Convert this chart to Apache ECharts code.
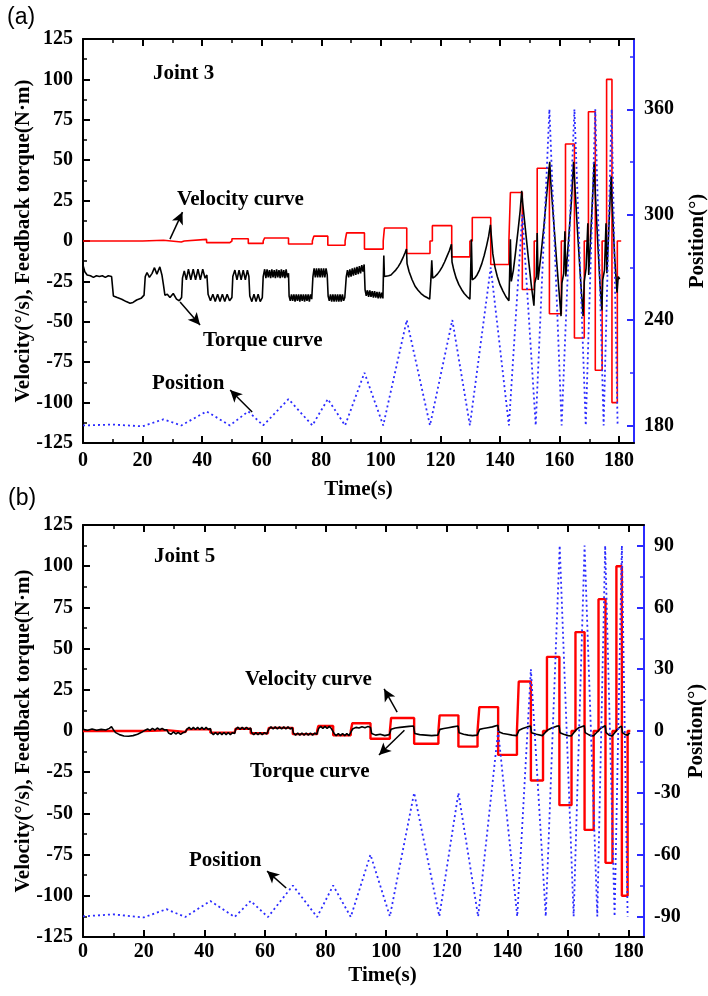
<!DOCTYPE html>
<html><head><meta charset="utf-8">
<script src="https://cdn.jsdelivr.net/npm/echarts@6/dist/echarts.min.js"></script>
<style>html,body{margin:0;padding:0;background:#fff;}#c{width:708px;height:996px;}</style>
</head><body><div id="c"></div>
<script>
// ---------- DATA ----------
const xMajor = [0,20,40,60,80,100,120,140,160,180];
const xMinor = [10,30,50,70,90,110,130,150,170];
const posA_major = [180,240,300,360];
const posA_minor = [210,270,330,390];
const posB_major = [-90,-60,-30,0,30,60,90];
const posB_minor = [-75,-45,-15,15,45,75];

// Panel (a) Joint 3 : velocity step segments (start time, value)
const velA_t = [0,20,27,33,34,41.5,49.3,50,55.5,60.5,61,69,77,77.5,82.2,88,88.5,94.5,100.8,101.2,108.7,116.5,117.3,123.8,129.9,130.7,136.9,143,143.5,147.5,151.5,152.5,156.6,160.6,162,165,168.3,169.7,172,174.3,175.8,177.6,179.4,180.7];
const velA_v = [0,0.5,-0.6,0,1,-1,0,1.4,-1.5,0,1.9,-1.9,0,3,-2.6,0,5,-5,0,8,-7.7,0,9.5,-9.8,0,14.5,-14.5,0,30,-30,0,45,-45,0,60,-60,0,80,-80,0,100,-100,0,0];

// Panel (a) position vertices [t, deg]
const posA = [[0,180],[10,180.5],[20,179.5],[27,183.5],[33,180],[41.5,188],[49.3,180],[55.5,188],[60.5,180],[69,195],[77,180],[82.2,195],[88,180],[94.5,210],[100.8,180],[108.7,240],[116.5,180],[124,240],[129.9,180],[136.9,270],[143,180],[147.5,300],[152,180],[156.6,360],[160.7,180],[165,360],[168.8,180],[172,360],[174.8,180],[177.5,360],[179.5,180]];

// Panel (a) feedback torque [t, N·m]
const torqueA = [
[0,-15],[0.6,-19],[1.4,-21],[2.5,-21.5],[3.5,-22.5],[4.5,-21.5],[5.5,-22],[6.5,-21.5],[7.5,-22.5],[8.5,-21.5],[9.6,-22],
[10.2,-34],[11.5,-35],[13,-36],[14.5,-37.5],[15.8,-38.5],[16.8,-38],[18,-36.5],[19.5,-35.5],[20.5,-33.5],
[20.9,-22],[21.5,-19.5],[22.3,-22.5],[23.2,-20],[24,-16.5],[24.8,-20.5],[25.8,-16],[26.5,-21],[27,-27],[27.5,-33.5],[28.3,-33],[29.2,-35],[30.3,-32.5],[31.4,-36],[32.3,-37],[33.1,-35],
[33.4,-23],[34,-18.5],[34.7,-24],[35.4,-17.5],[36.2,-24],[37,-17.5],[37.8,-24],[38.6,-17.5],[39.4,-24],[40.2,-17.5],[41,-23],[41.6,-21],
[42,-33],[42.8,-37],[43.6,-33],[44.4,-37.5],[45.2,-33],[46,-37.5],[46.8,-33],[47.6,-37.5],[48.4,-33],[49.2,-37],[50,-35],
[50.3,-22],[51,-18],[51.7,-24],[52.4,-18],[53.1,-24],[53.8,-18],[54.5,-24],[55.2,-18],[55.7,-22],
[56,-34],[56.7,-37.5],[57.4,-33],[58.1,-37.5],[58.8,-33],[59.5,-37.5],[60.2,-35],
[60.5,-22],[61,-17.5],[61.4,-23],[61.8,-17.5],[62.2,-22.5],[62.6,-18],[63,-23],[63.4,-17.5],[63.8,-22.5],[64.2,-18],[64.6,-23],[65,-17.5],[65.4,-22.5],[65.8,-18],[66.2,-23],[66.6,-17.5],[67,-22.5],[67.4,-18],[67.8,-23],[68.2,-17.5],[68.6,-22.5],[69,-20],
[69.2,-34],[69.6,-37],[70,-33],[70.4,-37],[70.8,-33],[71.2,-37.5],[71.6,-33],[72,-37],[72.4,-33],[72.8,-37.5],[73.2,-33],[73.6,-37],[74,-33],[74.4,-37.5],[74.8,-33],[75.2,-37],[75.6,-33],[76,-37.5],[76.4,-33],[76.8,-36],
[77.2,-22],[77.6,-17],[78,-22.5],[78.4,-17],[78.8,-22.5],[79.2,-17],[79.6,-22.5],[80,-17],[80.4,-22.5],[80.8,-17],[81.2,-22.5],[81.6,-17],[82,-21],
[82.3,-34],[82.7,-37],[83.1,-33],[83.5,-37.5],[83.9,-33],[84.3,-37.5],[84.7,-33],[85.1,-37.5],[85.5,-33],[85.9,-37.5],[86.3,-33],[86.7,-37.5],[87.1,-33],[87.5,-37],[87.9,-35],
[88.4,-22],[88.8,-18],[89.2,-22.5],[89.6,-17.5],[90,-22],[90.4,-17],[90.8,-21.5],[91.2,-16.5],[91.6,-21],[92,-16],[92.4,-20.5],[92.8,-15.5],[93.2,-20],[93.6,-15],[94,-19],[94.4,-14.5],
[94.7,-30],[95.1,-34],[95.5,-30.5],[95.9,-34.5],[96.3,-30.5],[96.7,-34.5],[97.1,-31],[97.5,-35],[97.9,-31],[98.3,-35],[98.7,-31.5],[99.1,-35.5],[99.5,-31.5],[99.9,-35.5],[100.3,-32],[100.7,-35.5],
[101,-9],[101.2,-22],[101.8,-23],[102.6,-21.5],[103.4,-21],[104.2,-19.5],[105,-18],[105.8,-16],[106.6,-13.5],[107.4,-10.5],[108.2,-7],[108.6,-5],
[108.8,-14],[109.5,-19],[110.5,-24],[111.5,-28],[112.5,-30.5],[113.5,-32.5],[114.5,-34],[115.5,-35],[116.4,-36],
[116.8,-24],[117.1,-12],[117.4,-23],[118.2,-22],[119,-20.5],[119.8,-18.5],[120.6,-16],[121.4,-13],[122.2,-9.5],[123,-6],[123.7,-2],
[123.9,-13],[124.5,-18],[125.3,-23],[126.2,-27],[127.1,-30],[128,-32.5],[129,-34.5],[129.9,-36],
[130.1,-24],[130.4,1],[130.7,-24],[131.5,-23],[132.3,-21],[133.1,-18],[133.9,-14],[134.7,-9],[135.5,-3],[136.2,3],[136.8,10],
[137.1,3],[137.6,-8],[138.3,-16],[139.1,-22],[140,-27],[141,-31],[142,-34.5],[143,-37],
[143.2,-24],[143.5,1],[143.8,-25],[144.5,-18],[145.3,-6],[146.1,7],[146.8,19],[147.3,31],
[147.6,24],[148.5,8],[149.5,-10],[150.5,-27],[151.4,-40],
[151.7,-26],[152.2,-22],[152.5,5],[152.8,-24],[153.8,-8],[154.8,10],[155.7,29],[156.7,49],
[157,38],[158,13],[159,-12],[160,-35],[160.5,-46.5],
[160.8,-26],[161.4,-20],[161.8,6],[162.1,-22],[163,0],[164,25],[164.7,49],
[165.1,36],[166,7],[167,-22],[167.9,-46.5],
[168.3,-25],[168.9,-17],[169.5,11],[169.8,-21],[170.5,5],[171.3,35],[171.6,49],
[172,30],[172.8,0],[173.6,-27],[174.2,-43],
[174.5,-24],[175.1,-18],[175.6,11],[175.9,-20],[176.6,10],[177.3,40],
[177.7,22],[178.5,-10],[179.3,-32],[179.7,-22],[180.2,-23.5]
];

// Panel (b) Joint 5 : velocity step segments
const velB_t = [0,20,27.5,33.7,34.3,42,50,50.3,55.3,61,61.3,69.2,77.2,77.6,82.5,88.3,88.8,94.8,101.2,101.6,109.2,117.2,117.6,123.8,130.1,130.7,136.9,143.1,143.7,147.7,151.7,153,157.1,161.1,162.4,165.4,168.4,170,172.3,174.6,175.9,177.7,179.6,180.5];
const velB_v = [0,0.5,-0.6,0,1,-1,0,1.4,-1.4,0,1.9,-1.9,0,3,-2.6,0,4.7,-4.7,0,7.9,-7.7,0,9.5,-9.5,0,14.5,-14.5,0,30,-30,0,45,-45,0,60,-60,0,80,-80,0,100,-100,0,0];

// Panel (b) position vertices
const posB = [[0,-90],[10,-89],[20,-90.5],[27.5,-86.5],[33.7,-90.3],[42,-82.5],[50,-90.3],[55.3,-82.5],[61,-90.3],[69.2,-75],[77.2,-90.3],[82.5,-75],[88.3,-90.3],[94.8,-60],[101.2,-90],[109.2,-30],[117.5,-90],[123.8,-30],[130.3,-90],[136.9,0],[143.2,-90],[147.7,30],[152.6,-90],[157.2,90],[161.8,-90],[165.4,90],[169.6,-90],[172.2,90],[175.3,-90],[177.7,90],[179.6,-90]];

// Panel (b) feedback torque
const torqueB = [
[0,1],[1.5,0.4],[3,1.2],[4.5,0.5],[6,1],[7.5,0.6],[8.7,1.6],[9.4,2.6],[10,0.8],[10.8,-1],[12,-2.2],[13.5,-3],[15,-3.2],[16.5,-2.8],[18,-2],[19.3,-0.8],[20.5,0.5],
[21.3,1.2],[22.1,0.4],[22.9,1.6],[23.7,0.6],[24.5,1.8],[25.3,0.8],[26.1,1.6],[26.9,0.6],[27.6,0.8],
[28.2,-1.2],[29,-2],[29.8,-0.6],[30.6,-1.8],[31.4,-0.8],[32.2,-2],[33,-1],[33.8,-0.5],
[34.3,1.2],[35,2.2],[35.7,0.9],[36.4,2.2],[37.1,0.9],[37.8,2.2],[38.5,0.9],[39.2,2.2],[39.9,0.9],[40.6,2.2],[41.3,0.9],[42,1.5],
[42.3,-1],[43,-2.2],[43.7,-0.9],[44.4,-2.2],[45.1,-0.9],[45.8,-2.2],[46.5,-0.9],[47.2,-2.2],[47.9,-0.9],[48.6,-2.2],[49.3,-1],[50,-1.5],
[50.4,1.2],[51.1,2.3],[51.8,1],[52.5,2.3],[53.2,1],[53.9,2.3],[54.6,1],[55.3,1.8],
[55.6,-1],[56.3,-2.3],[57,-1],[57.7,-2.3],[58.4,-1],[59.1,-2.3],[59.8,-1],[60.6,-1.8],
[61.3,1.2],[62,2.5],[62.7,1.2],[63.4,2.5],[64.1,1.2],[64.8,2.5],[65.5,1.2],[66.2,2.5],[66.9,1.2],[67.6,2.5],[68.3,1.2],[69,2],
[69.4,-1.2],[70.1,-2.6],[70.8,-1.2],[71.5,-2.6],[72.2,-1.2],[72.9,-2.6],[73.6,-1.2],[74.3,-2.6],[75,-1.2],[75.7,-2.6],[76.4,-1.2],[77.1,-2],
[77.7,1.5],[78.4,2.8],[79.1,1.5],[79.8,2.8],[80.5,1.5],[81.2,2.8],[81.9,1.5],[82.5,2],
[82.8,-1.5],[83.5,-2.8],[84.2,-1.5],[84.9,-2.8],[85.6,-1.5],[86.3,-2.8],[87,-1.5],[87.7,-2.8],[88.3,-2],
[88.9,1.2],[90,2.2],[91,1.8],[92,2.6],[93,2],[94,2.8],[94.8,2.2],
[95.2,-1.5],[96.5,-2.5],[98,-2],[99.5,-2.8],[101,-2.2],
[101.6,1],[103,1.8],[104.5,2.2],[106,2.5],[107.5,2.8],[109,3],
[109.4,-1.5],[111,-2.2],[113,-2.5],[115,-2.8],[117,-2.5],
[117.7,1],[119,1.5],[120.5,2],[122,2.5],[123.7,3],
[124,-1],[125.5,-2],[127,-2.5],[128.5,-2.8],[130,-2.5],
[130.8,1],[132,1.5],[133.5,2],[135,2.5],[136.8,3.5],
[137.1,-0.5],[138.5,-1.5],[140,-2],[141.5,-2.5],[143,-2.8],
[143.8,0.5],[145,1.5],[146.5,2.5],[147.6,3],
[147.9,-1],[149.5,-2],[151.5,-2.8],
[153.1,0.5],[154.5,1.8],[156,2.8],[157,3.2],
[157.3,-1],[158.5,-2],[160,-2.8],[161,-3],
[162.5,0.5],[163.5,2],[165.3,3.2],
[165.6,-1],[167,-2.5],[168.3,-3],
[170.1,0.5],[171,2],[172.2,3.2],
[172.5,-1],[173.5,-2.5],[174.5,-3],
[176,0.5],[176.8,2],[177.6,3],
[177.9,-1],[178.8,-2.2],[179.6,-2.5],[180.3,-1]
];

// annotation arrows in data coordinates (tail -> head)
const arrowsA = [[[29.2,1.2],[33.4,17.9]], [[32.6,-37.7],[39.3,-52]], [[56.8,-105.8],[49.4,-92.2]]];
const arrowsB = [[[103.6,11.5],[99.3,25.5]], [[106,0.5],[97.6,-14.6]], [[67,-95.3],[60.7,-85]]];

// ---------- CHART ----------
const SERIF = '"Liberation Serif","Times New Roman",serif';
const BLUE = '#2b2bff';
const chart = echarts.init(document.getElementById('c'), null, {renderer:'canvas'});
const pairs = (ts, vs) => ts.map((t,i)=>[t, vs[i]]);
const lbl = {fontFamily:SERIF, fontWeight:'bold', fontSize:20, color:'#000'};
const nameStyle = {fontFamily:SERIF, fontWeight:'bold', fontSize:21, color:'#000'};

function xAxesFor(g, labelMargin, nameGap, namePad){
  const base = {gridIndex:g, type:'value', min:0, max:185, splitLine:{show:false}};
  const line = {show:true, onZero:false, lineStyle:{color:'#000', width:2}};
  return [
    Object.assign({}, base, {position:'bottom', axisLine:line,
      axisTick:{show:true, inside:true, length:7, customValues:xMajor, lineStyle:{color:'#000', width:2}},
      axisLabel:{show:true, customValues:xMajor, margin:labelMargin, ...lbl},
      name:'Time(s)', nameLocation:'middle', nameGap:nameGap, nameMoveOverlap:false,
      nameTextStyle:Object.assign({padding:namePad}, nameStyle)}),
    Object.assign({}, base, {position:'bottom', axisLine:{show:false, onZero:false},
      axisTick:{show:true, inside:true, length:4, customValues:xMinor, lineStyle:{color:'#000', width:1.5}},
      axisLabel:{show:false}}),
    Object.assign({}, base, {position:'top', axisLine:line,
      axisTick:{show:true, inside:true, length:7, customValues:xMajor, lineStyle:{color:'#000', width:2}},
      axisLabel:{show:false}}),
    Object.assign({}, base, {position:'top', axisLine:{show:false, onZero:false},
      axisTick:{show:true, inside:true, length:4, customValues:xMinor, lineStyle:{color:'#000', width:1.5}},
      axisLabel:{show:false}})
  ];
}
function yAxesFor(g, rmin, rmax, major, minor, rightGap){
  return [
    {gridIndex:g, type:'value', position:'left', min:-125, max:125, interval:25, splitLine:{show:false},
     axisLine:{show:true, onZero:false, lineStyle:{color:'#000', width:2}},
     axisTick:{show:true, inside:true, length:7, lineStyle:{color:'#000', width:2}},
     minorTick:{show:true, splitNumber:2, length:4, lineStyle:{color:'#000', width:1.5}},
     axisLabel:{show:true, margin:10, ...lbl},
     name:'Velocity(°/s), Feedback torque(N·m)', nameLocation:'middle', nameRotate:90, nameGap:49,
     nameMoveOverlap:false, nameTextStyle:nameStyle},
    {gridIndex:g, type:'value', position:'right', min:rmin, max:rmax, splitLine:{show:false},
     axisLine:{show:true, onZero:false, lineStyle:{color:BLUE, width:2}},
     axisTick:{show:true, inside:true, length:7, customValues:major, lineStyle:{color:BLUE, width:2}},
     axisLabel:{show:true, customValues:major, margin:10, ...lbl},
     name:'Position(°)', nameLocation:'middle', nameRotate:90, nameGap:rightGap, nameMoveOverlap:false,
     nameTextStyle:nameStyle},
    {gridIndex:g, type:'value', position:'right', min:rmin, max:rmax, splitLine:{show:false},
     axisLine:{show:false, onZero:false},
     axisTick:{show:true, inside:true, length:4, customValues:minor, lineStyle:{color:BLUE, width:1.5}},
     axisLabel:{show:false}}
  ];
}
function arrowLine(list){
  return {silent:true, symbol:['none','arrow'], symbolSize:[9,12], animation:false,
    lineStyle:{color:'#000', width:1.5, type:'solid'}, label:{show:false}, emphasis:{disabled:true},
    data:list.map(a=>[{coord:a[0]},{coord:a[1]}])};
}
function txt(t, x, y, size, fam, weight){
  return {type:'text', x:x, y:y, silent:true, style:{text:t, fill:'#000', fontSize:size, fontFamily:fam||SERIF, fontWeight:weight||'bold', verticalAlign:'middle', align:'left'}};
}

const option = {
  animation:false,
  backgroundColor:'#fff',
  grid:[
    {left:83, top:39, width:551, height:404, outerBoundsMode:'none'},
    {left:83, top:525, width:561, height:412, outerBoundsMode:'none'}
  ],
  xAxis:[...xAxesFor(0, 8, 36, [0,0,0,0]), ...xAxesFor(1, 5, 28, [0,0,0,38])],
  yAxis:[...yAxesFor(0, 170, 400, posA_major, posA_minor, 53), ...yAxesFor(1, -100, 100, posB_major, posB_minor, 42)],
  series:[
    {name:'Velocity A', type:'line', xAxisIndex:0, yAxisIndex:0, step:'end', showSymbol:false, data:pairs(velA_t, velA_v),
     lineStyle:{color:'#ff0000', width:1.6}, z:2, markLine:arrowLine(arrowsA)},
    {name:'Torque A', type:'line', xAxisIndex:0, yAxisIndex:0, showSymbol:false, data:torqueA,
     lineStyle:{color:'#000', width:1.6}, z:3},
    {name:'Position A', type:'line', xAxisIndex:0, yAxisIndex:1, showSymbol:false, data:posA,
     lineStyle:{color:BLUE, width:1.8, type:[2,3]}, z:4},
    {name:'Velocity B', type:'line', xAxisIndex:4, yAxisIndex:3, step:'end', showSymbol:false, data:pairs(velB_t, velB_v),
     lineStyle:{color:'#ff0000', width:2.4}, z:2, markLine:arrowLine(arrowsB)},
    {name:'Torque B', type:'line', xAxisIndex:4, yAxisIndex:3, showSymbol:false, data:torqueB,
     lineStyle:{color:'#000', width:1.6}, z:3},
    {name:'Position B', type:'line', xAxisIndex:4, yAxisIndex:4, showSymbol:false, data:posB,
     lineStyle:{color:BLUE, width:1.8, type:[2,3]}, z:4}
  ],
  graphic:[
    txt('(a)', 7, 18, 23, '"Liberation Sans",Arial,sans-serif', 'normal'),
    txt('Joint 3', 153, 74, 21),
    txt('Velocity curve', 177, 200, 21),
    txt('Torque curve', 203, 341, 21),
    txt('Position', 152, 384, 21),
    txt('(b)', 8, 499, 23, '"Liberation Sans",Arial,sans-serif', 'normal'),
    txt('Joint 5', 154, 557, 21),
    txt('Velocity curve', 245, 680, 21),
    txt('Torque curve', 250, 772, 21),
    txt('Position', 189, 861, 21)
  ]
};
chart.setOption(option);
</script></body></html>
